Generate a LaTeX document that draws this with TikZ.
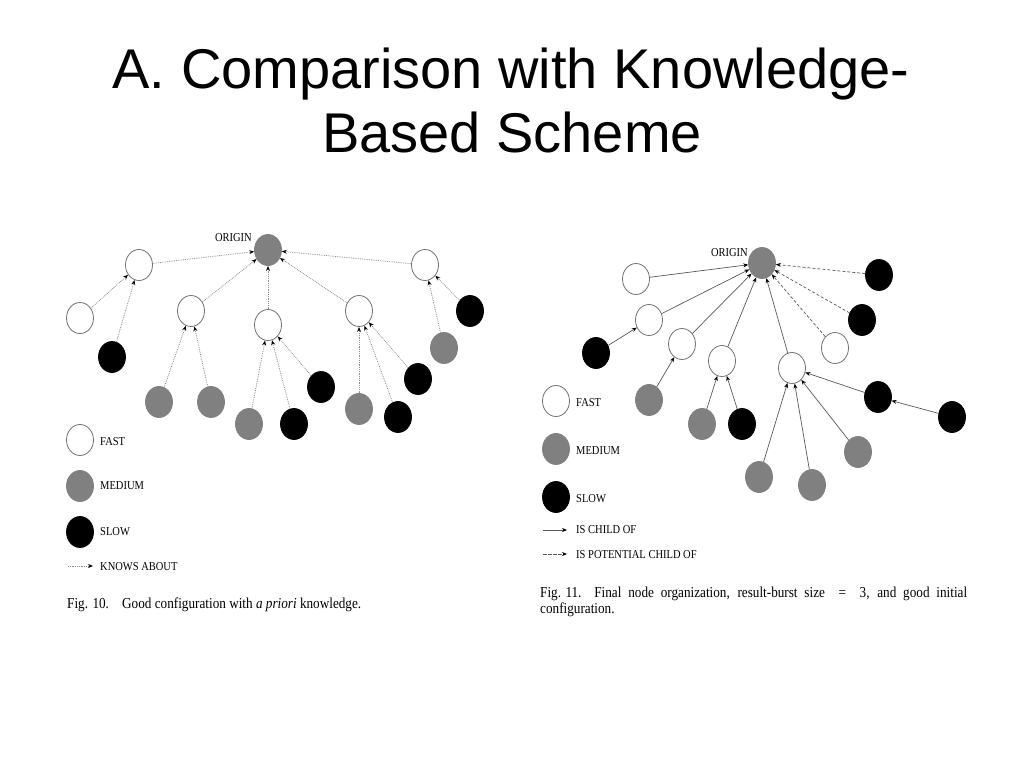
\documentclass[tikz,border=0pt]{standalone}
\usepackage{graphicx}
\usepackage{fontspec}
\setmainfont{Liberation Serif}
\newfontfamily\titlefont{Liberation Sans}
\usetikzlibrary{shapes.geometric,arrows.meta}
\definecolor{midgray}{RGB}{128,128,128}
\newcommand{\vstr}[1]{\scalebox{1}[1.15]{#1}}
\begin{document}
\begin{tikzpicture}[x=1pt,y=-1pt,
 nd/.style={ellipse,minimum width=27pt,minimum height=31pt,inner sep=0pt,line width=0.8pt},
 fast/.style={nd,draw=black!55,fill=white},
 medium/.style={nd,draw=midgray,fill=midgray},
 slow/.style={nd,draw=black,fill=black},
 knows/.style={draw=black!45,line width=0.8pt,densely dotted,-{Stealth[length=5pt,width=4pt,black]}},
 child/.style={draw=black!65,line width=0.7pt,-{Stealth[length=5pt,width=4pt,black]}},
 potential/.style={child,dash pattern=on 3pt off 2pt},
 lbl/.style={font=\fontsize{10.5}{12}\selectfont,anchor=base west,inner sep=0pt},
 captxt/.style={font=\fontsize{13.2}{16}\selectfont,anchor=base west,inner sep=0pt},
 ttl/.style={font=\titlefont\fontsize{56}{64}\selectfont,anchor=base,inner sep=0pt},
]
\fill[white] (0,0) rectangle (1024,768);
\useasboundingbox (0,0) rectangle (1024,768);

% title
\node[ttl] (t1) at (511,88) {A. Comparison with Knowledge-};
\node[ttl] (t2) at (512,152) {Based Scheme};

% ---------- left figure ----------
\node[medium] (o1) at (268,250) {};
\node[lbl,anchor=base east] (o1l) at (252,241) {\vstr{ORIGIN}};
\node[fast] (a) at (139,265) {};
\node[fast] (b) at (425,265) {};
\node[fast] (c) at (191,311) {};
\node[fast] (d) at (268,325) {};
\node[fast] (e) at (359,311) {};
\node[fast] (f) at (80,318) {};
\node[slow] (g) at (112,357) {};
\node[medium] (h) at (159,402) {};
\node[medium] (i) at (211,402) {};
\node[medium] (j) at (249,424) {};
\node[slow] (k) at (294,424) {};
\node[slow] (l) at (321,387) {};
\node[medium] (m) at (359,409) {};
\node[slow] (n) at (398,417) {};
\node[slow] (p) at (418,379) {};
\node[medium] (q) at (444,348) {};
\node[slow] (r) at (470,311) {};

\foreach \s in {a,b,c,d,e} \draw[knows] (\s) -- (o1);
\draw[knows] (f) -- (a);
\draw[knows] (g) -- (a);
\draw[knows] (h) -- (c);
\draw[knows] (i) -- (c);
\draw[knows] (j) -- (d);
\draw[knows] (k) -- (d);
\draw[knows] (l) -- (d);
\draw[knows] (m) -- (e);
\draw[knows] (n) -- (e);
\draw[knows] (p) -- (e);
\draw[knows] (q) -- (b);
\draw[knows] (r) -- (b);

% left legend
\node[fast] (lf) at (80,440) {};
\node[lbl] (lft) at (100,445) {\vstr{FAST}};
\node[medium] (lm) at (80,486) {};
\node[lbl] (lmt) at (100,489.5) {\vstr{MEDIUM}};
\node[slow] (ls) at (80,532) {};
\node[lbl] (lst) at (100,535) {\vstr{SLOW}};
\coordinate (ka) at (68,566);
\coordinate (kb) at (93,566);
\draw[knows] (ka) -- (kb);
\node[lbl] (lkt) at (100,570) {\vstr{KNOWS ABOUT}};

\node[captxt] (c1) at (67,608) {\vstr{Fig. 10.\quad Good configuration with \textit{a priori} knowledge.}};

% ---------- right figure ----------
\node[medium] (o2) at (762,263) {};
\node[lbl,anchor=base east] (o2l) at (748,256) {\vstr{ORIGIN}};
\node[fast] (w1) at (636,279) {};
\node[fast] (w2) at (649,320) {};
\node[fast] (w3) at (682,344) {};
\node[fast] (w4) at (722,361) {};
\node[fast] (w5) at (792,368) {};
\node[fast] (w6) at (835,348) {};
\node[slow] (s1) at (596,353) {};
\node[medium] (g1) at (649,400) {};
\node[medium] (g2) at (702,424) {};
\node[slow] (s2) at (742,424) {};
\node[medium] (g3) at (759,477) {};
\node[medium] (g4) at (812,485) {};
\node[medium] (g5) at (858,452) {};
\node[slow] (s3) at (878,397) {};
\node[slow] (s4) at (952,417) {};
\node[slow] (s5) at (862,320) {};
\node[slow] (s6) at (879,275) {};

\foreach \s in {w1,w2,w3,w4,w5} \draw[child] (\s) -- (o2);
\foreach \s in {w6,s5,s6} \draw[potential] (\s) -- (o2);
\draw[child] (s1) -- (w2);
\draw[child] (g1) -- (w3);
\draw[child] (g2) -- (w4);
\draw[child] (s2) -- (w4);
\draw[child] (g3) -- (w5);
\draw[child] (g4) -- (w5);
\draw[child] (g5) -- (w5);
\draw[child] (s3) -- (w5);
\draw[child] (s4) -- (s3);

% right legend
\node[fast] (rf) at (556,401) {};
\node[lbl] (rft) at (576,406) {\vstr{FAST}};
\node[medium] (rm) at (556,449) {};
\node[lbl] (rmt) at (576,454) {\vstr{MEDIUM}};
\node[slow] (rs) at (556,497) {};
\node[lbl] (rst) at (576,502) {\vstr{SLOW}};
\coordinate (ca) at (543,530);
\coordinate (cb) at (567,530);
\draw[child] (ca) -- (cb);
\node[lbl] (rct) at (576,533.5) {\vstr{IS CHILD OF}};
\coordinate (pa) at (543,554);
\coordinate (pb) at (567,554);
\draw[child,dash pattern=on 4pt off 1pt] (pa) -- (pb);
\node[lbl] (rpt) at (576,558) {\vstr{IS POTENTIAL CHILD OF}};

\node[captxt] (c2a) at (540,597) {\vstr{\makebox[427pt][s]{\mbox{Fig. 11.}\hspace{6pt} Final node organization, result-burst size \ =\ \ 3, and good initial}}};
\node[captxt] (c2b) at (540,613) {\vstr{configuration.}};
\end{tikzpicture}
\end{document}
